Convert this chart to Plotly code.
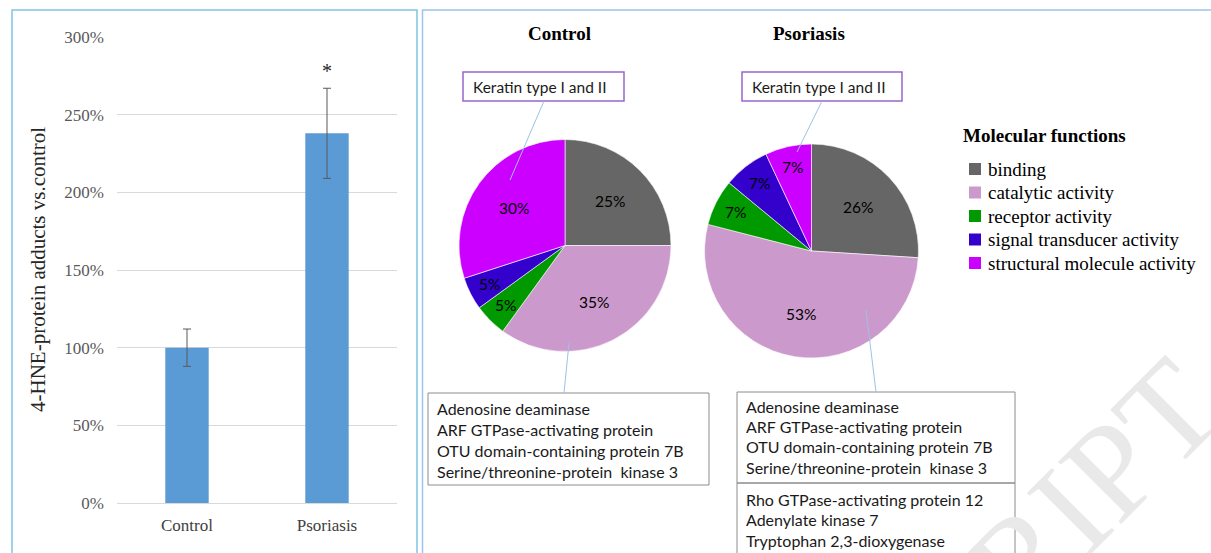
import math
import plotly.graph_objects as go

W, H = 1211, 553

# ---------------- data ----------------
groups = ["Control", "Psoriasis"]
hne_values = [100, 238]
hne_errors = [12, 29]
y_ticks = [0, 50, 100, 150, 200, 250, 300]
y_tick_text = ["%d%%" % v for v in y_ticks]
y_title = "4-HNE-protein adducts vs.control"

functions = ["binding", "catalytic activity", "receptor activity",
             "signal transducer activity", "structural molecule activity"]
control_pct = [25, 35, 5, 5, 30]
psoriasis_pct = [26, 53, 7, 7, 7]
function_colors = ["#666666", "#cc99cc", "#009900", "#3300cc", "#cc00ff"]
legend_title = "Molecular functions"

keratin_label = "Keratin type I and II"
control_catalytic_proteins = ["Adenosine deaminase", "ARF GTPase-activating protein",
                              "OTU domain-containing protein 7B",
                              "Serine/threonine-protein  kinase 3"]
psoriasis_catalytic_proteins = ["Adenosine deaminase", "ARF GTPase-activating protein",
                                "OTU domain-containing protein 7B",
                                "Serine/threonine-protein  kinase 3"]
psoriasis_extra_proteins = ["Rho GTPase-activating protein 12", "Adenylate kinase 7",
                            "Tryptophan 2,3-dioxygenase"]
watermark = "ACCEPTED MANUSCRIPT"

# ---------------- helpers ----------------
def px(x):
    return x / W


def py(y):
    return 1 - y / H


SERIF = "Liberation Serif, Times New Roman, serif"
SANS = "Lato, Carlito, Calibri, sans-serif"

fig = go.Figure()
shapes = []
ann = []

# watermark (very light)
ann.append(dict(text=watermark, x=px(630), y=py(950), xref="paper", yref="paper",
                xanchor="center", yanchor="middle", textangle=-45, showarrow=False,
                font=dict(family=SERIF, size=135, color="#e9e9e9")))

# ---------------- bar chart ----------------
fig.add_trace(go.Bar(
    x=groups, y=hne_values, width=0.31,
    marker=dict(color="#5b9bd5", line=dict(width=0)),
    error_y=dict(type="data", array=hne_errors, color="#595959", thickness=1, width=4),
    showlegend=False, hoverinfo="x+y"))

fig.update_layout(
    xaxis=dict(domain=[px(117), px(397)], showgrid=False, showline=False, zeroline=False,
               ticks="", tickfont=dict(family=SERIF, size=17, color="#404040"),
               ticklabelstandoff=10, fixedrange=True),
    yaxis=dict(domain=[py(503), py(37)], range=[0, 300], tickmode="array",
               tickvals=y_ticks, ticktext=y_tick_text,
               showgrid=True, gridcolor="#d9d9d9", gridwidth=1, zeroline=True,
               zerolinecolor="#d9d9d9", zerolinewidth=1, showline=False, ticks="",
               tickfont=dict(family=SERIF, size=17, color="#595959"),
               ticklabelstandoff=12, fixedrange=True),
)

ann.append(dict(text=y_title, x=px(38), y=py(270), xref="paper", yref="paper",
                textangle=-90, showarrow=False, xanchor="center", yanchor="middle",
                font=dict(family=SERIF, size=21, color="#262626")))
ann.append(dict(text="*", x=groups[1], y=hne_values[1] + hne_errors[1], xref="x", yref="y",
                xanchor="center", yanchor="bottom", yshift=4, showarrow=False,
                font=dict(family=SERIF, size=20, color="#262626")))

# ---------------- pies ----------------
pies = [
    ("Control", control_pct, (565, 245.5), 106, (559, 33)),
    ("Psoriasis", psoriasis_pct, (811.5, 251), 107, (809, 33)),
]
for name, vals, (cx, cy), r, (tx, ty) in pies:
    fig.add_trace(go.Pie(
        labels=functions, values=vals, sort=False, direction="clockwise", rotation=0,
        marker=dict(colors=function_colors, line=dict(color="white", width=0.6)),
        textinfo="none", showlegend=False, name=name, hoverinfo="label+percent",
        domain=dict(x=[px(cx - r), px(cx + r)], y=[py(cy + r), py(cy - r)])))
    ann.append(dict(text="<b>%s</b>" % name, x=px(tx), y=py(ty), xref="paper", yref="paper",
                    showarrow=False, xanchor="center", yanchor="middle",
                    font=dict(family=SERIF, size=19, color="black")))
    total = float(sum(vals))
    cum = 0.0
    for v in vals:
        mid = (cum + v / 2.0) / total * 2 * math.pi
        cum += v
        rf = 0.6 if v >= 10 else 0.8
        lx = cx + rf * r * math.sin(mid)
        ly = cy - rf * r * math.cos(mid)
        ann.append(dict(text="%d%%" % v, x=px(lx), y=py(ly), xref="paper", yref="paper",
                        showarrow=False, xanchor="center", yanchor="middle",
                        font=dict(family=SANS, size=15.5, color="black")))

# ---------------- legend (manual) ----------------
ann.append(dict(text="<b>%s</b>" % legend_title, x=px(961), y=py(136), xref="paper",
                yref="paper", showarrow=False, xanchor="left", yanchor="middle",
                font=dict(family=SERIF, size=19, color="black")))
for i, (lab, col) in enumerate(zip(functions, function_colors)):
    yc = 169 + i * 23.5
    shapes.append(dict(type="rect", xref="paper", yref="paper", x0=px(969), x1=px(981),
                       y0=py(yc + 6), y1=py(yc - 6), fillcolor=col, line=dict(width=0)))
    ann.append(dict(text=lab, x=px(986), y=py(yc), xref="paper", yref="paper",
                    showarrow=False, xanchor="left", yanchor="middle",
                    font=dict(family=SERIF, size=19, color="black")))

# ---------------- callout boxes ----------------
for (x0, x1) in [(463, 624), (742, 902)]:
    shapes.append(dict(type="rect", xref="paper", yref="paper", x0=px(x0), x1=px(x1),
                       y0=py(101), y1=py(72), line=dict(color="#9966cc", width=1.5),
                       fillcolor="white"))
    ann.append(dict(text=keratin_label, x=px(x0 + 8), y=py(87), xref="paper", yref="paper",
                    showarrow=False, xanchor="left", yanchor="middle",
                    font=dict(family=SANS, size=15.5, color="#1a1a1a")))

TXT = 16
shapes.append(dict(type="rect", xref="paper", yref="paper", x0=px(428), x1=px(709),
                   y0=py(485), y1=py(393), line=dict(color="#8c8c8c", width=1)))
for i, t in enumerate(control_catalytic_proteins):
    ann.append(dict(text=t, x=px(435), y=py(408 + 21 * i), xref="paper", yref="paper",
                    showarrow=False, xanchor="left", yanchor="middle",
                    font=dict(family=SANS, size=TXT, color="#1a1a1a")))

shapes.append(dict(type="rect", xref="paper", yref="paper", x0=px(737), x1=px(1015),
                   y0=py(483), y1=py(392), line=dict(color="#8c8c8c", width=1)))
shapes.append(dict(type="rect", xref="paper", yref="paper", x0=px(737), x1=px(1015),
                   y0=py(570), y1=py(483), line=dict(color="#8c8c8c", width=1)))
for i, t in enumerate(psoriasis_catalytic_proteins):
    ann.append(dict(text=t, x=px(744), y=py(406 + 20.5 * i), xref="paper", yref="paper",
                    showarrow=False, xanchor="left", yanchor="middle",
                    font=dict(family=SANS, size=TXT, color="#1a1a1a")))
for i, t in enumerate(psoriasis_extra_proteins):
    ann.append(dict(text=t, x=px(744), y=py(499 + 20.5 * i), xref="paper", yref="paper",
                    showarrow=False, xanchor="left", yanchor="middle",
                    font=dict(family=SANS, size=TXT, color="#1a1a1a")))

# leader lines
for (xa, ya, xb, yb) in [(544, 101, 510, 180), (822, 101, 797, 152),
                         (569, 343, 564, 393), (866, 310, 876, 392)]:
    shapes.append(dict(type="line", xref="paper", yref="paper", x0=px(xa), y0=py(ya),
                       x1=px(xb), y1=py(yb), line=dict(color="#9dc3e6", width=1)))

# panel borders
shapes.append(dict(type="rect", xref="paper", yref="paper", x0=px(12), x1=px(417),
                   y0=py(570), y1=py(10), line=dict(color="#7fc3e8", width=1.5)))
shapes.append(dict(type="rect", xref="paper", yref="paper", x0=px(422.5), x1=px(1230),
                   y0=py(570), y1=py(10), line=dict(color="#9dc3ee", width=1.5)))

fig.update_layout(
    width=W, height=H, margin=dict(l=0, r=0, t=0, b=0, autoexpand=False),
    paper_bgcolor="white", plot_bgcolor="white",
    shapes=shapes, annotations=ann, bargap=0.3,
)

fig.write_html("out.html")
